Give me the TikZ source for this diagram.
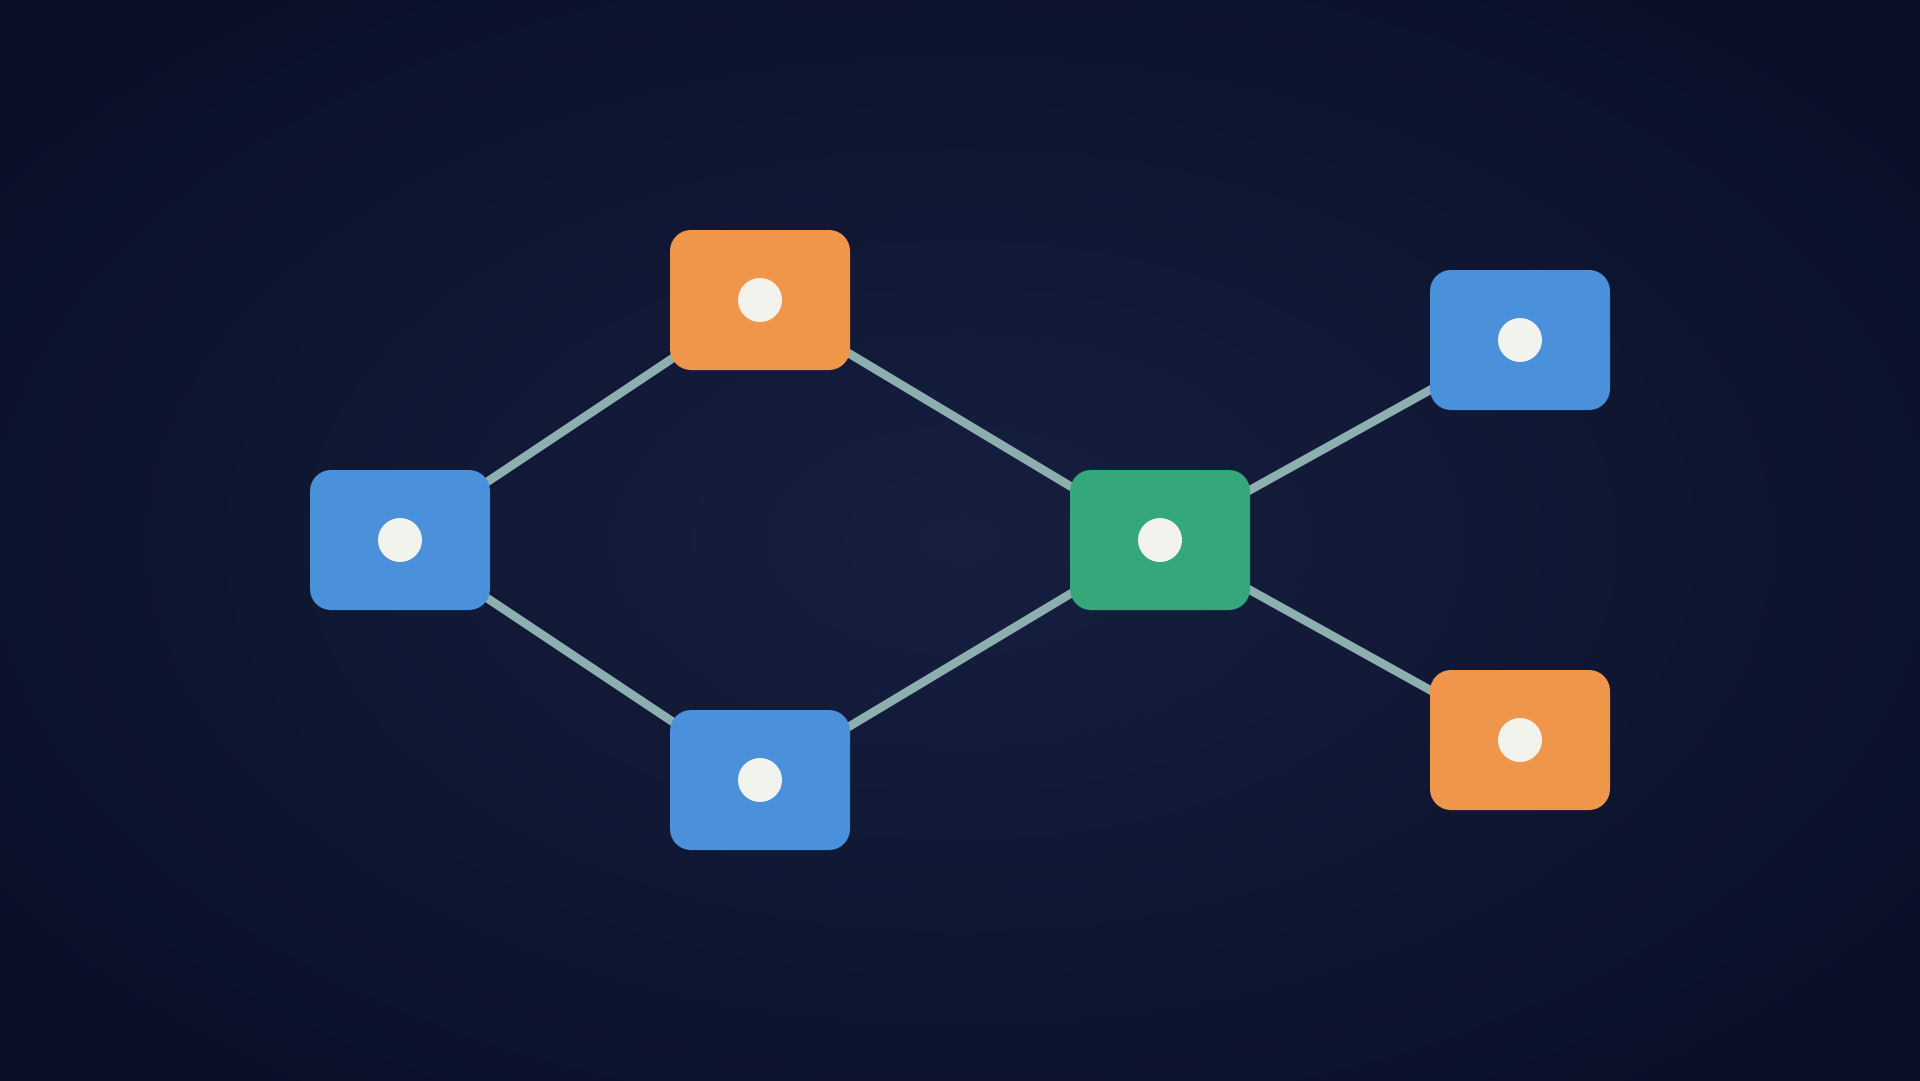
\documentclass[tikz,border=0pt]{standalone}
\definecolor{bgin}{HTML}{161F40}
\definecolor{bgout}{HTML}{0A1028}
\definecolor{nblue}{HTML}{4A90DB}
\definecolor{norange}{HTML}{F0964A}
\definecolor{ngreen}{HTML}{35A87B}
\definecolor{link}{HTML}{8EAFB0}
\definecolor{dotc}{HTML}{F3F3EE}
\tikzset{
  box/.style={rounded corners=21pt, minimum width=180pt, minimum height=140pt, inner sep=0pt},
  bluebox/.style={box, fill=nblue},
  orangebox/.style={box, fill=norange},
  greenbox/.style={box, fill=ngreen},
  dot/.style={circle, fill=dotc, minimum size=44pt, inner sep=0pt},
  conn/.style={draw=link, line width=8.5pt}
}
\begin{document}
\begin{tikzpicture}[x=1pt,y=-1pt]
\useasboundingbox (0,0) rectangle (1920,1080);
\shade[inner color=bgin, outer color=bgout] (-200,-150) rectangle (2120,1230);
\coordinate (cl) at (400,540);
\coordinate (ct) at (760,300);
\coordinate (cb) at (760,780);
\coordinate (cg) at (1160,540);
\coordinate (ctr) at (1520,340);
\coordinate (cbr) at (1520,740);
\draw[conn] (cl) -- (ct);
\draw[conn] (cl) -- (cb);
\draw[conn] (ct) -- (cg);
\draw[conn] (cb) -- (cg);
\draw[conn] (cg) -- (ctr);
\draw[conn] (cg) -- (cbr);
\node[bluebox] (nl) at (cl) {};
\node[orangebox] (nt) at (ct) {};
\node[bluebox] (nb) at (cb) {};
\node[greenbox] (ng) at (cg) {};
\node[bluebox] (ntr) at (ctr) {};
\node[orangebox] (nbr) at (cbr) {};
\node[dot] (dl) at (nl) {};
\node[dot] (dt) at (nt) {};
\node[dot] (db) at (nb) {};
\node[dot] (dg) at (ng) {};
\node[dot] (dtr) at (ntr) {};
\node[dot] (dbr) at (nbr) {};
\end{tikzpicture}
\end{document}
